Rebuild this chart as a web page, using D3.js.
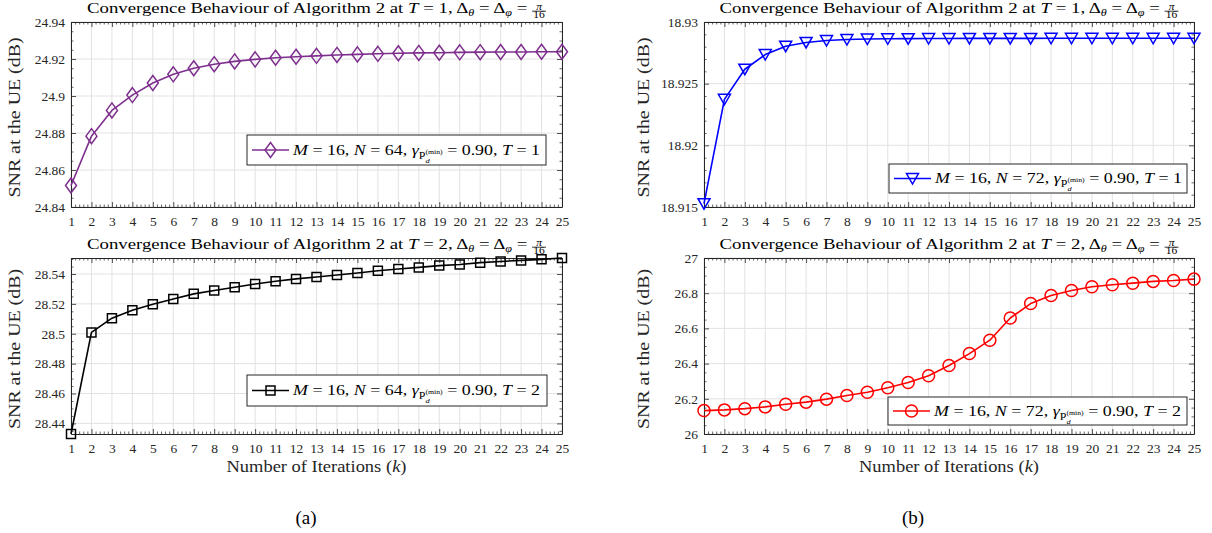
<!DOCTYPE html>
<html><head><meta charset="utf-8">
<script src="https://cdn.jsdelivr.net/npm/d3@7"></script>
<style>
body{margin:0;background:#fff;}
svg{display:block;font-family:"Liberation Serif","Times New Roman",serif;}
svg text{white-space:pre;font-family:"Liberation Serif","Times New Roman",serif;}
</style></head><body>
<svg id="chart" width="1212" height="533"></svg>
<script>
// ---------- data ----------
const iterations = [1,2,3,4,5,6,7,8,9,10,11,12,13,14,15,16,17,18,19,20,21,22,23,24,25];
const snrT1N64 = [24.8516,24.8783,24.8922,24.9005,24.9070,24.9117,24.9150,24.9172,24.9187,24.9198,24.9207,24.9212,24.9217,24.9222,24.9225,24.9228,24.9231,24.9233,24.9234,24.9236,24.9237,24.9238,24.9238,24.9239,24.9239];
const snrT1N72 = [18.91527,18.92373,18.92617,18.92736,18.92804,18.92834,18.92850,18.92858,18.92862,18.92864,18.92865,18.92866,18.92866,18.92867,18.92867,18.92867,18.92867,18.92868,18.92868,18.92868,18.92868,18.92868,18.92868,18.92868,18.92868];
const snrT2N64 = [28.4329,28.5009,28.5104,28.5158,28.5198,28.5233,28.5267,28.5289,28.5311,28.5333,28.5351,28.5367,28.5380,28.5393,28.5407,28.5422,28.5433,28.5444,28.5456,28.5464,28.5476,28.5484,28.5491,28.5498,28.5507];
const snrT2N72 = [26.133,26.137,26.144,26.154,26.169,26.181,26.198,26.219,26.237,26.263,26.293,26.331,26.389,26.457,26.533,26.659,26.741,26.787,26.815,26.837,26.848,26.857,26.867,26.872,26.880];

const yTicksT1N64 = [24.84,24.86,24.88,24.9,24.92,24.94];
const yLabelsT1N64 = ["24.84","24.86","24.88","24.9","24.92","24.94"];
const yTicksT1N72 = [18.915,18.92,18.925,18.93];
const yLabelsT1N72 = ["18.915","18.92","18.925","18.93"];
const yTicksT2N64 = [28.44,28.46,28.48,28.5,28.52,28.54];
const yLabelsT2N64 = ["28.44","28.46","28.48","28.5","28.52","28.54"];
const yTicksT2N72 = [26,26.2,26.4,26.6,26.8,27];
const yLabelsT2N72 = ["26","26.2","26.4","26.6","26.8","27"];

const legendN = [64, 72, 64, 72];
const legendT = [1, 1, 2, 2];
const panelCaptions = ["(a)", "(b)"];

// ---------- layout ----------
const svg = d3.select('#chart');
const AX = '#262626';
const GRID = '#e2e2e2';
const SERIF = '"Liberation Serif","Times New Roman",serif';

const panels = [
  {x0:71, x1:562, y0:22, y1:207, dom:[24.84,24.94], minor:0.005, data:snrT1N64, ticks:yTicksT1N64, labels:yLabelsT1N64,
   color:'#7E2F8E', marker:'diamond', leg:[247,546,135,165], n:legendN[0], t:legendT[0], xlabel:false},
  {x0:704, x1:1194, y0:22, y1:207, dom:[18.915,18.93], minor:0.001, data:snrT1N72, ticks:yTicksT1N72, labels:yLabelsT1N72,
   color:'#0000FF', marker:'tri', leg:[889,1187,164,193], n:legendN[1], t:legendT[1], xlabel:false},
  {x0:71, x1:562, y0:258, y1:434, dom:[28.4329,28.5507], minor:0.005, data:snrT2N64, ticks:yTicksT2N64, labels:yLabelsT2N64,
   color:'#000000', marker:'square', leg:[247,547,375,406], n:legendN[2], t:legendT[2], xlabel:true},
  {x0:704, x1:1194, y0:258, y1:434, dom:[26,27], minor:0.05, data:snrT2N72, ticks:yTicksT2N72, labels:yLabelsT2N72,
   color:'#FF0000', marker:'circle', leg:[888,1187,397,425], n:legendN[3], t:legendT[3], xlabel:true}
];

function rich(parent, pieces, fs0, fill) {
  const g = parent.append('g').attr('font-family', SERIF);
  let cur = 0, lastStart = 0, maxX = 0;
  pieces.forEach(p => {
    if (p.frac) {
      const num = g.append('text').attr('font-size', p.fs).attr('font-style','italic').attr('y', p.ny).attr('fill',fill).text(p.frac[0]);
      const den = g.append('text').attr('font-size', p.fs).attr('y', p.dy2).attr('fill',fill).text(p.frac[1]);
      const wn = num.node().getComputedTextLength(), wd = den.node().getComputedTextLength();
      const w = Math.max(wn, wd) + 2;
      num.attr('x', cur + (w - wn) / 2);
      den.attr('x', cur + (w - wd) / 2);
      g.append('line').attr('x1', cur).attr('x2', cur + w).attr('y1', p.ly).attr('y2', p.ly)
        .attr('stroke', fill).attr('stroke-width', 0.7);
      cur += w; maxX = Math.max(maxX, cur);
      return;
    }
    const start = p.stack ? lastStart : cur;
    const t = g.append('text').attr('x', start).attr('y', p.dy || 0)
      .attr('font-size', p.fs || fs0).attr('fill', fill)
      .attr('font-style', p.it ? 'italic' : null).text(p.t);
    const w = t.node().getComputedTextLength();
    if (!p.stack) lastStart = start;
    cur = p.stack ? Math.max(cur, start + w) : start + w;
    maxX = Math.max(maxX, cur);
  });
  return {g, width: maxX};
}

function placeFit(r, left, baseline, target) {
  r.g.attr('transform', `translate(${left},${baseline}) scale(${target / r.width},1)`);
}

function markerPath(type) {
  switch (type) {
    case 'diamond': return 'M0,-7.5L5.5,0L0,7.5L-5.5,0Z';
    case 'tri': return 'M-6,-5L6,-5L0,5.5Z';
    case 'square': return 'M-4.5,-4.5H4.5V4.5H-4.5Z';
  }
  return null;
}
function drawMarker(sel, type, color) {
  if (type === 'circle') {
    sel.append('circle').attr('r', 6).attr('fill', 'none').attr('stroke', color).attr('stroke-width', 1.5);
  } else {
    sel.append('path').attr('d', markerPath(type)).attr('fill', 'none').attr('stroke', color).attr('stroke-width', 1.5);
  }
}

function styleAxis(a) {
  a.attr('font-family', SERIF);
  a.select('.domain').attr('stroke', AX).attr('stroke-width', 1);
  a.selectAll('.tick line').attr('stroke', AX).attr('stroke-width', 0.8);
  a.selectAll('.tick text').attr('fill', AX).attr('font-size', 13.5).attr('font-family', SERIF);
}

panels.forEach(p => {
  const x = d3.scaleLinear().domain([1, 25]).range([p.x0, p.x1]);
  const y = d3.scaleLinear().domain(p.dom).range([p.y1, p.y0]);
  const g = svg.append('g');

  // grid
  g.append('g').selectAll('line').data(iterations).join('line')
    .attr('x1', d => x(d)).attr('x2', d => x(d)).attr('y1', p.y0).attr('y2', p.y1)
    .attr('stroke', GRID).attr('stroke-width', 1);
  g.append('g').selectAll('line').data(p.ticks).join('line')
    .attr('x1', p.x0).attr('x2', p.x1).attr('y1', d => y(d)).attr('y2', d => y(d))
    .attr('stroke', GRID).attr('stroke-width', 1);

  // minor tick values
  const minorX = d3.range(1, 25.0001, 0.2).filter(v => Math.abs(v - Math.round(v)) > 1e-6);
  const minorY = d3.range(Math.ceil(p.dom[0] / p.minor) * p.minor, p.dom[1] + 1e-9, p.minor)
    .filter(v => !p.ticks.some(t => Math.abs(t - v) < p.minor * 0.01));

  // major axes
  const ab = g.append('g').attr('transform', `translate(0,${p.y1})`)
    .call(d3.axisBottom(x).tickValues(iterations).tickSize(-5).tickSizeOuter(0).tickPadding(9).tickFormat(d => String(d)));
  styleAxis(ab);
  const at = g.append('g').attr('transform', `translate(0,${p.y0})`)
    .call(d3.axisTop(x).tickValues(iterations).tickSize(-5).tickSizeOuter(0).tickFormat(''));
  styleAxis(at);
  const al = g.append('g').attr('transform', `translate(${p.x0},0)`)
    .call(d3.axisLeft(y).tickValues(p.ticks).tickSize(-5).tickSizeOuter(0).tickPadding(6)
      .tickFormat((d, i) => p.labels[i]));
  styleAxis(al);
  const ar = g.append('g').attr('transform', `translate(${p.x1},0)`)
    .call(d3.axisRight(y).tickValues(p.ticks).tickSize(-5).tickSizeOuter(0).tickFormat(''));
  styleAxis(ar);
  // minor ticks
  [[d3.axisBottom(x).tickValues(minorX), `translate(0,${p.y1})`],
   [d3.axisTop(x).tickValues(minorX), `translate(0,${p.y0})`],
   [d3.axisLeft(y).tickValues(minorY), `translate(${p.x0},0)`],
   [d3.axisRight(y).tickValues(minorY), `translate(${p.x1},0)`]].forEach(([ax, tr]) => {
    const m = g.append('g').attr('transform', tr).call(ax.tickSize(-2.5).tickSizeOuter(0).tickFormat(''));
    m.select('.domain').remove();
    m.selectAll('.tick line').attr('stroke', AX).attr('stroke-width', 0.7);
  });

  // series
  const line = d3.line().x((d, i) => x(iterations[i])).y(d => y(d));
  g.append('path').datum(p.data).attr('d', line).attr('fill', 'none')
    .attr('stroke', p.color).attr('stroke-width', 1.6).attr('stroke-linejoin', 'round');
  p.data.forEach((d, i) => {
    const mg = g.append('g').attr('transform', `translate(${x(iterations[i])},${y(d)})`);
    drawMarker(mg, p.marker, p.color);
  });

  // legend
  const [lx0, lx1, ly0, ly1] = p.leg;
  const lcy = (ly0 + ly1) / 2;
  g.append('rect').attr('x', lx0).attr('y', ly0).attr('width', lx1 - lx0).attr('height', ly1 - ly0)
    .attr('fill', '#fff').attr('stroke', AX).attr('stroke-width', 1);
  g.append('line').attr('x1', lx0 + 5).attr('x2', lx0 + 42).attr('y1', lcy).attr('y2', lcy)
    .attr('stroke', p.color).attr('stroke-width', 1.6);
  drawMarker(g.append('g').attr('transform', `translate(${lx0 + 23.5},${lcy})`), p.marker, p.color);
  const lt = rich(g, [
    {t:'M', it:1}, {t:' = 16, '}, {t:'N', it:1}, {t:' = ' + p.n + ', '},
    {t:'γ', it:1}, {t:'P', fs:10, dy:4}, {t:'(min)', fs:6.5, dy:-1}, {t:'d', it:1, fs:7, dy:8.5, stack:1},
    {t:' = 0.90, '}, {t:'T', it:1}, {t:' = ' + p.t}
  ], 15, '#000');
  placeFit(lt, lx0 + 46, lcy + 4.5, 247);

  // title
  const tt = rich(g, [
    {t:'Convergence Behaviour of Algorithm 2 at '}, {t:'T', it:1}, {t:' = ' + p.t + ', Δ'},
    {t:'θ', it:1, fs:10, dy:3}, {t:' = Δ'}, {t:'φ', it:1, fs:10, dy:3}, {t:' = '},
    {frac:['π', '16'], fs:9.5, ny:-3.5, dy2:5.4, ly:-1.8}
  ], 15.5, '#000');
  const tw = 459;
  placeFit(tt, (p.x0 + p.x1) / 2 - tw / 2, p.y0 - 9, tw);

  // y label
  const cy = (p.y0 + p.y1) / 2 + 3;
  const ylx = p.x0 < 300 ? 15 : 644;
  g.append('text').attr('transform', `translate(${ylx + 5},${cy}) rotate(-90)`)
    .attr('text-anchor', 'middle').attr('font-size', 16).attr('fill', AX).attr('font-family', SERIF)
    .attr('textLength', 160).attr('lengthAdjust', 'spacingAndGlyphs')
    .text('SNR at the UE (dB)');

  // x label
  if (p.xlabel) {
    const xl = rich(g, [{t:'Number of Iterations ('}, {t:'k', it:1}, {t:')'}], 16, AX);
    placeFit(xl, (p.x0 + p.x1) / 2 - 90, p.y1 + 38, 180);
  }
});

// captions
svg.selectAll('text.caption').data(panelCaptions).join('text').attr('class', 'caption')
  .attr('x', (d, i) => i === 0 ? 306 : 913).attr('y', 524).attr('font-family', SERIF)
  .attr('text-anchor', 'middle').attr('font-size', 19).attr('fill', '#000').text(d => d);
</script>
</body></html>
